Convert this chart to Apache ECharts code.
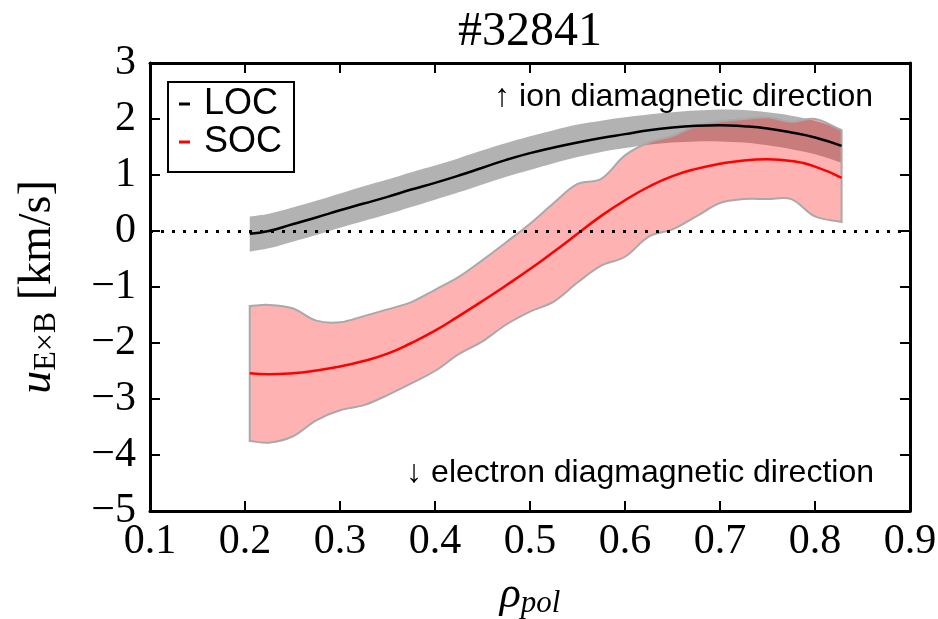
<!DOCTYPE html>
<html>
<head>
<meta charset="utf-8">
<script src="https://cdn.jsdelivr.net/npm/echarts@6/dist/echarts.min.js"></script>
<style>
html,body{margin:0;padding:0;background:#fff;}
#chart{width:938px;height:619px;}
</style>
</head>
<body>
<div id="chart"></div>
<script>
// ---- data ----
const rho = [0.205, 0.225, 0.25, 0.275, 0.3, 0.325, 0.35, 0.375, 0.4, 0.425, 0.45, 0.475, 0.5, 0.525, 0.55, 0.575, 0.6, 0.625, 0.65, 0.675, 0.7, 0.725, 0.75, 0.775, 0.8, 0.828];

const locMean  = [-0.05, 0.0, 0.12, 0.24, 0.37, 0.49, 0.61, 0.74, 0.86, 0.99, 1.13, 1.27, 1.39, 1.49, 1.58, 1.66, 1.73, 1.80, 1.85, 1.88, 1.89, 1.87, 1.83, 1.76, 1.67, 1.52];
const locUpper = [0.26, 0.31, 0.42, 0.54, 0.67, 0.80, 0.92, 1.05, 1.17, 1.30, 1.44, 1.57, 1.69, 1.80, 1.90, 1.97, 2.03, 2.08, 2.12, 2.15, 2.17, 2.16, 2.12, 2.06, 1.97, 1.82];
const locLower = [-0.37, -0.31, -0.19, -0.07, 0.06, 0.18, 0.30, 0.43, 0.56, 0.69, 0.83, 0.97, 1.09, 1.21, 1.32, 1.41, 1.48, 1.54, 1.58, 1.60, 1.60, 1.58, 1.53, 1.46, 1.37, 1.22];

const socMean  = [-2.54, -2.56, -2.54, -2.49, -2.42, -2.32, -2.19, -2.0, -1.78, -1.52, -1.25, -0.97, -0.68, -0.37, -0.05, 0.27, 0.55, 0.79, 0.98, 1.11, 1.20, 1.26, 1.28, 1.25, 1.15, 0.95];
const socUpper = [-1.34, -1.32, -1.38, -1.60, -1.63, -1.52, -1.40, -1.27, -1.05, -0.82, -0.52, -0.2, 0.13, 0.5, 0.84, 0.93, 1.35, 1.58, 1.70, 1.88, 1.96, 2.0, 2.03, 1.95, 2.0, 1.8];
const socLower = [-3.75, -3.78, -3.67, -3.38, -3.2, -3.11, -2.93, -2.72, -2.5, -2.2, -1.97, -1.67, -1.44, -1.26, -0.92, -0.62, -0.46, -0.1, 0.03, 0.26, 0.5, 0.57, 0.57, 0.57, 0.26, 0.16];

const xTicks = [0.1, 0.2, 0.3, 0.4, 0.5, 0.6, 0.7, 0.8, 0.9];
const yTicks = [-5, -4, -3, -2, -1, 0, 1, 2, 3];
const legendNames = ['LOC', 'SOC'];
const titleText = '#32841';
const noteTop = '\u2191 ion diamagnetic direction';
const noteBottom = '\u2193 electron diagmagnetic direction';

// ---- chart ----
const SERIF = '"Liberation Serif", "DejaVu Serif", serif';
const SANS = '"Liberation Sans", Arial, sans-serif';

function bandRenderer(lower, upper, fill, stroke, lw) {
  return function (params, api) {
    if (params.dataIndex !== 0) return;
    const up = rho.map((x, i) => api.coord([x, upper[i]]));
    const lo = rho.map((x, i) => api.coord([x, lower[i]])).reverse();
    // duplicate corner points so the smoothing keeps the corners sharp
    const pts = [up[0]].concat(up, [up[up.length - 1]], [lo[0]], lo, [lo[lo.length - 1]]);
    return {
      type: 'polygon',
      shape: { points: pts, smooth: 0.35 },
      style: { fill: fill, stroke: stroke, lineWidth: lw }
    };
  };
}

const chart = echarts.init(document.getElementById('chart'), null, { renderer: 'canvas' });

const axisCommon = {
  axisLine: { show: true, onZero: false, lineStyle: { color: '#000', width: 3 } },
  axisTick: { show: true, inside: true, length: 10, lineStyle: { color: '#000', width: 2 } },
  splitLine: { show: false }
};

const option = {
  animation: false,
  backgroundColor: '#fff',
  grid: { left: 150, right: 28, top: 63, bottom: 108, containLabel: false, outerBoundsMode: 'none' },
  legend: {
    data: legendNames,
    orient: 'vertical',
    left: 168,
    top: 82,
    icon: 'rect',
    itemWidth: 11,
    itemHeight: 3,
    itemGap: 0,
    itemTextGap: 15,
    padding: [3, 12, 11, 11],
    borderColor: '#000',
    borderWidth: 2,
    backgroundColor: '#fff',
    selectedMode: false,
    textStyle: { fontFamily: SANS, fontSize: 36, color: '#000', lineHeight: 38, padding: [0, 0, 0, 9] }
  },
  xAxis: [
    Object.assign({}, axisCommon, {
      type: 'value', position: 'bottom', min: xTicks[0], max: xTicks[xTicks.length - 1], interval: 0.1,
      axisLabel: { fontFamily: SERIF, fontSize: 42, color: '#000', margin: 10,
        formatter: v => xTicks.find(t => Math.abs(t - v) < 1e-6).toFixed(1) },
      name: '{r|\u03c1}{s|pol}',
      nameLocation: 'middle',
      nameGap: 60,
      nameTextStyle: {
        rich: {
          r: { fontFamily: SERIF, fontStyle: 'italic', fontSize: 44, color: '#000', lineHeight: 48 },
          s: { fontFamily: SERIF, fontStyle: 'italic', fontSize: 31, color: '#000', lineHeight: 38, verticalAlign: 'bottom' }
        }
      }
    }),
    Object.assign({}, axisCommon, {
      type: 'value', position: 'top', min: xTicks[0], max: xTicks[xTicks.length - 1], interval: 0.1,
      axisLabel: { show: false }
    })
  ],
  yAxis: [
    Object.assign({}, axisCommon, {
      type: 'value', position: 'left', min: yTicks[0], max: yTicks[yTicks.length - 1], interval: 1,
      axisLabel: { fontFamily: SERIF, fontSize: 42, color: '#000', margin: 14,
        formatter: v => (v < 0 ? '\u2212' + Math.abs(v) : String(v)) },
      name: '{u|u}{s|E\u00d7B}{t| [km/s]}',
      nameLocation: 'middle',
      nameRotate: 90,
      nameGap: 87,
      nameTextStyle: {
        rich: {
          u: { fontFamily: SERIF, fontStyle: 'italic', fontSize: 46, color: '#000', lineHeight: 50 },
          s: { fontFamily: SERIF, fontSize: 32, color: '#000', lineHeight: 27, verticalAlign: 'bottom' },
          t: { fontFamily: SERIF, fontSize: 46, color: '#000', lineHeight: 50 }
        }
      }
    }),
    Object.assign({}, axisCommon, {
      type: 'value', position: 'right', min: yTicks[0], max: yTicks[yTicks.length - 1], interval: 1,
      axisLabel: { show: false }
    })
  ],
  graphic: [
    { type: 'text', x: 530, y: 32,
      style: { text: titleText, font: '48px ' + SERIF, fill: '#000', textAlign: 'center', textVerticalAlign: 'middle' } },
    { type: 'text', x: 873, y: 97,
      style: { text: noteTop, font: '32px ' + SANS, fill: '#000', textAlign: 'right', textVerticalAlign: 'middle' } },
    { type: 'text', x: 874, y: 473,
      style: { text: noteBottom, font: '32px ' + SANS, fill: '#000', textAlign: 'right', textVerticalAlign: 'middle' } }
  ],
  series: [
    {
      name: 'LOC band', type: 'custom', z: 1, silent: true,
      data: rho.map((x, i) => [x, locLower[i], locUpper[i]]),
      renderItem: bandRenderer(locLower, locUpper, 'rgba(0,0,0,0.3)', null, 0)
    },
    {
      name: 'SOC band', type: 'custom', z: 2, silent: true,
      data: rho.map((x, i) => [x, socLower[i], socUpper[i]]),
      renderItem: bandRenderer(socLower, socUpper, 'rgba(255,0,0,0.3)', '#a9a9a9', 2)
    },
    {
      name: 'SOC', type: 'line', z: 3, color: '#ff0000', smooth: 0.5, showSymbol: false, symbol: 'none',
      lineStyle: { color: '#ff0000', width: 2.5 },
      data: rho.map((x, i) => [x, socMean[i]])
    },
    {
      name: 'LOC', type: 'line', z: 4, color: '#000000', smooth: 0.5, showSymbol: false, symbol: 'none',
      lineStyle: { color: '#000', width: 2.5 },
      data: rho.map((x, i) => [x, locMean[i]]),
      markLine: {
        silent: true, symbol: ['none', 'none'], label: { show: false },
        lineStyle: { color: '#000', type: [3, 8], width: 3 },
        data: [{ yAxis: 0 }]
      }
    }
  ]
};
chart.setOption(option);
</script>
</body>
</html>
